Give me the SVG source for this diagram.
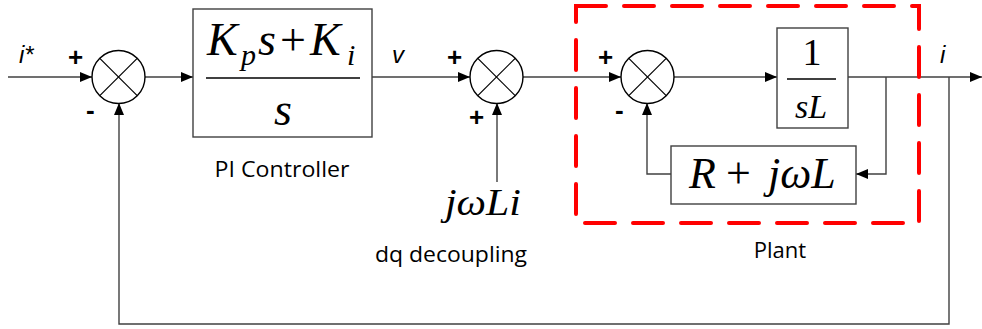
<svg xmlns="http://www.w3.org/2000/svg" width="982" height="329" viewBox="0 0 982 329">
<style>
.ln{fill:none;stroke:#404040;stroke-width:1.4}
.bx{fill:#fff;stroke:#404040;stroke-width:1.4}
.sj{fill:#fff;stroke:#000;stroke-width:1.4}
.x{stroke:#000;stroke-width:1.2}
.lbl{font-family:"Open Sans","Liberation Sans",sans-serif;font-size:22px;fill:#000}
.sg{font-family:"Liberation Sans",sans-serif;font-size:26px;font-weight:bold;fill:#000}
.it{font-family:"Liberation Sans",sans-serif;font-style:italic;font-size:24px;fill:#000}
.m{font-family:"Liberation Serif","DejaVu Serif",serif;font-style:italic;fill:#000}
.mr{font-family:"Liberation Serif","DejaVu Serif",serif;font-style:normal;fill:#000}
</style>
<defs>
<marker id="ar" markerWidth="12" markerHeight="10" refX="12" refY="5" orient="auto" markerUnits="userSpaceOnUse">
<path d="M0,0 L12,5 L0,10 Z" fill="#000"/>
</marker>
</defs>
<g id="connectors">
<line class="ln" x1="8" y1="77" x2="92" y2="77" marker-end="url(#ar)"/>
<line class="ln" x1="145" y1="77" x2="193" y2="77" marker-end="url(#ar)"/>
<line class="ln" x1="372" y1="77" x2="470" y2="77" marker-end="url(#ar)"/>
<line class="ln" x1="497" y1="182" x2="497" y2="103" marker-end="url(#ar)"/>
<line class="ln" x1="523" y1="77" x2="621" y2="77" marker-end="url(#ar)"/>
<line class="ln" x1="674" y1="77" x2="777" y2="77" marker-end="url(#ar)"/>
<line class="ln" x1="848" y1="77" x2="982" y2="77" marker-end="url(#ar)"/>
<polyline class="ln" points="886,77 886,174 856,174" marker-end="url(#ar)"/>
<polyline class="ln" points="671,174 647,174 647,103" marker-end="url(#ar)"/>
<polyline class="ln" points="949,77 949,324 119,324 119,103" marker-end="url(#ar)"/>
</g>
<g id="sum1">
<circle class="sj" cx="118.5" cy="77" r="26.5"/>
<line class="x" x1="99.8" y1="58.3" x2="137.2" y2="95.7"/>
<line class="x" x1="137.2" y1="58.3" x2="99.8" y2="95.7"/>
<text class="sg" x="68" y="66">+</text>
<text class="sg" x="86" y="119">-</text>
</g>
<g id="input">
<text class="it" x="19" y="63">i*</text>
</g>
<g id="pi">
<rect class="bx" x="193" y="9" width="179" height="128"/>
<line x1="206" y1="78" x2="360" y2="78" stroke="#000" stroke-width="1.6"/>
<text class="m" font-size="46" y="55"><tspan x="207">K</tspan><tspan x="241" dy="10" font-size="30">p</tspan><tspan x="258" dy="-10">s</tspan><tspan class="mr" x="280">+</tspan><tspan x="310">K</tspan><tspan x="347" dy="10" font-size="30">i</tspan></text>
<text class="m" x="283" y="125" font-size="46" text-anchor="middle">s</text>
<text class="lbl" x="282" y="177" text-anchor="middle" textLength="135" lengthAdjust="spacingAndGlyphs">PI Controller</text>
</g>
<g id="v">
<text class="it" x="392" y="63">v</text>
</g>
<g id="sum2">
<circle class="sj" cx="496.5" cy="77" r="26.5"/>
<line class="x" x1="477.8" y1="58.3" x2="515.2" y2="95.7"/>
<line class="x" x1="515.2" y1="58.3" x2="477.8" y2="95.7"/>
<text class="sg" x="447" y="66">+</text>
<text class="sg" x="469" y="126">+</text>
</g>
<g id="decoupling">
<text class="m" x="445" y="215" font-size="38" textLength="76" lengthAdjust="spacingAndGlyphs">jωLi</text>
<text class="lbl" x="375" y="262" textLength="152" lengthAdjust="spacingAndGlyphs">dq decoupling</text>
</g>
<g id="plant">
<rect x="576" y="6" width="343" height="217" fill="none" stroke="#ff0000" stroke-width="4" stroke-dasharray="30 18" stroke-linecap="round"/>
<text class="lbl" x="780" y="258" text-anchor="middle">Plant</text>
</g>
<g id="sum3">
<circle class="sj" cx="647.5" cy="77" r="26.5"/>
<line class="x" x1="628.8" y1="58.3" x2="666.2" y2="95.7"/>
<line class="x" x1="666.2" y1="58.3" x2="628.8" y2="95.7"/>
<text class="sg" x="598" y="66">+</text>
<text class="sg" x="615" y="119">-</text>
</g>
<g id="g1sL">
<rect class="bx" x="777" y="28" width="71" height="100"/>
<line x1="787" y1="79" x2="836" y2="79" stroke="#000" stroke-width="1.6"/>
<text class="mr" x="812" y="65" font-size="38" text-anchor="middle">1</text>
<text class="m" x="811" y="118" font-size="34" text-anchor="middle">sL</text>
</g>
<g id="RjwL">
<rect class="bx" x="671" y="146" width="185" height="58"/>
<text class="m" font-size="44" y="188"><tspan x="689">R</tspan><tspan class="mr" x="726">+</tspan><tspan x="768">jωL</tspan></text>
</g>
<g id="output">
<text class="it" x="940" y="63">i</text>
</g>
</svg>
